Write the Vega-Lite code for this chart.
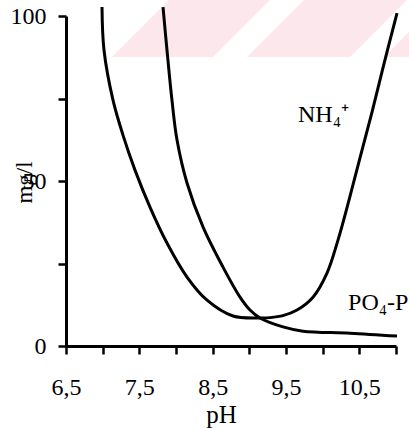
{
  "$schema": "https://vega.github.io/schema/vega-lite/v6.json",
  "width": 330,
  "height": 330,
  "autosize": {"type": "none"},
  "padding": {"left": 66, "top": 16, "right": 13, "bottom": 82},
  "config": {"view": {"stroke": null}, "font": "Liberation Serif"},
  "datasets": {
    "curves": [
      {"series": "NH4", "pH": 6.991, "mg": 102.7},
      {"series": "NH4", "pH": 7.018, "mg": 89.7},
      {"series": "NH4", "pH": 7.141, "mg": 74.5},
      {"series": "NH4", "pH": 7.277, "mg": 63.9},
      {"series": "NH4", "pH": 7.441, "mg": 53.3},
      {"series": "NH4", "pH": 7.645, "mg": 42.1},
      {"series": "NH4", "pH": 7.877, "mg": 31.2},
      {"series": "NH4", "pH": 8.15, "mg": 20.9},
      {"series": "NH4", "pH": 8.423, "mg": 13.9},
      {"series": "NH4", "pH": 8.777, "mg": 9.1},
      {"series": "NH4", "pH": 9.145, "mg": 8.5},
      {"series": "NH4", "pH": 9.282, "mg": 8.6},
      {"series": "NH4", "pH": 9.459, "mg": 9.2},
      {"series": "NH4", "pH": 9.65, "mg": 10.9},
      {"series": "NH4", "pH": 9.868, "mg": 14.8},
      {"series": "NH4", "pH": 10.059, "mg": 22.1},
      {"series": "NH4", "pH": 10.209, "mg": 32.1},
      {"series": "NH4", "pH": 10.359, "mg": 44.2},
      {"series": "NH4", "pH": 10.509, "mg": 57.0},
      {"series": "NH4", "pH": 10.673, "mg": 70.9},
      {"series": "NH4", "pH": 10.836, "mg": 85.5},
      {"series": "NH4", "pH": 11.014, "mg": 100.9},
      {"series": "PO4", "pH": 7.823, "mg": 102.7},
      {"series": "PO4", "pH": 7.877, "mg": 89.7},
      {"series": "PO4", "pH": 7.945, "mg": 74.5},
      {"series": "PO4", "pH": 8.014, "mg": 62.4},
      {"series": "PO4", "pH": 8.15, "mg": 49.4},
      {"series": "PO4", "pH": 8.368, "mg": 36.1},
      {"series": "PO4", "pH": 8.641, "mg": 23.9},
      {"series": "PO4", "pH": 8.873, "mg": 14.8},
      {"series": "PO4", "pH": 9.009, "mg": 10.9},
      {"series": "PO4", "pH": 9.145, "mg": 8.5},
      {"series": "PO4", "pH": 9.459, "mg": 5.8},
      {"series": "PO4", "pH": 9.732, "mg": 4.5},
      {"series": "PO4", "pH": 10.373, "mg": 3.9},
      {"series": "PO4", "pH": 11.014, "mg": 3.0}
    ],
    "labels": [
      {"text": "NH₄⁺", "pH": 9.664, "mg": 67.9},
      {"text": "PO₄-P", "pH": 10.346, "mg": 10.9}
    ],
    "stripes": [
      {"band": 1, "mg": 87.58, "pH": 7.127, "pH_end": 8.505},
      {"band": 1, "mg": 104.85, "pH": 7.905, "pH_end": 9.282},
      {"band": 2, "mg": 87.58, "pH": 8.968, "pH_end": 10.373},
      {"band": 2, "mg": 104.85, "pH": 9.745, "pH_end": 11.15},
      {"band": 3, "mg": 87.58, "pH": 10.836, "pH_end": 12.214},
      {"band": 3, "mg": 104.85, "pH": 11.614, "pH_end": 12.991}
    ]
  },
  "encoding": {
    "x": {
      "field": "pH",
      "type": "quantitative",
      "stack": null,
      "scale": {"domain": [6.5, 11], "nice": false},
      "axis": {
        "values": [6.5, 7, 7.5, 8, 8.5, 9, 9.5, 10, 10.5, 11],
        "format": ".1f",
        "labelExpr": "(round(datum.value * 10) % 10) === 5 ? replace(datum.label, '.', ',') : ''",
        "labelFont": "Liberation Serif",
        "labelFontSize": 24,
        "labelColor": "black",
        "labelBaseline": "alphabetic",
        "labelPadding": 40,
        "labelFlush": false,
        "labelOverlap": false,
        "labelBound": false,
        "tickSize": 8,
        "tickWidth": 2.5,
        "tickColor": "black",
        "domainColor": "black",
        "domainWidth": 3,
        "grid": false,
        "title": "pH",
        "titleFont": "Liberation Serif",
        "titleFontSize": 25,
        "titleFontWeight": "normal",
        "titleColor": "black",
        "titleX": 155,
        "titleY": 76,
        "titleAlign": "center",
        "titleBaseline": "alphabetic"
      }
    },
    "y": {
      "field": "mg",
      "type": "quantitative",
      "stack": null,
      "scale": {"domain": [0, 100], "nice": false},
      "axis": {
        "values": [0, 25, 50, 75, 100],
        "labelExpr": "datum.value % 50 === 0 ? datum.label : ''",
        "labelFont": "Liberation Serif",
        "labelFontSize": 24,
        "labelColor": "black",
        "labelPadding": 12,
        "labelOverlap": false,
        "labelBound": false,
        "labelFlush": false,
        "tickSize": 8,
        "tickWidth": 2.5,
        "tickColor": "black",
        "domainColor": "black",
        "domainWidth": 3,
        "grid": false,
        "title": "mg/l",
        "titleFont": "Liberation Serif",
        "titleFontSize": 23,
        "titleFontWeight": "normal",
        "titleColor": "black",
        "titleAngle": -90,
        "titleX": -42,
        "titleY": 166,
        "titleAlign": "center",
        "titleBaseline": "middle"
      }
    }
  },
  "layer": [
    {
      "data": {"name": "stripes"},
      "mark": {"type": "area", "orient": "horizontal", "color": "#fce8ec"},
      "encoding": {
        "x2": {"field": "pH_end"},
        "detail": {"field": "band", "type": "nominal"}
      }
    },
    {
      "data": {"name": "curves"},
      "mark": {"type": "line", "interpolate": "catmull-rom", "strokeWidth": 3, "color": "black"},
      "encoding": {
        "detail": {"field": "series", "type": "nominal"}
      }
    },
    {
      "data": {"name": "labels"},
      "mark": {"type": "text", "align": "left", "baseline": "alphabetic", "font": "Liberation Serif", "fontSize": 24, "color": "black"},
      "encoding": {
        "text": {"field": "text"}
      }
    }
  ]
}
